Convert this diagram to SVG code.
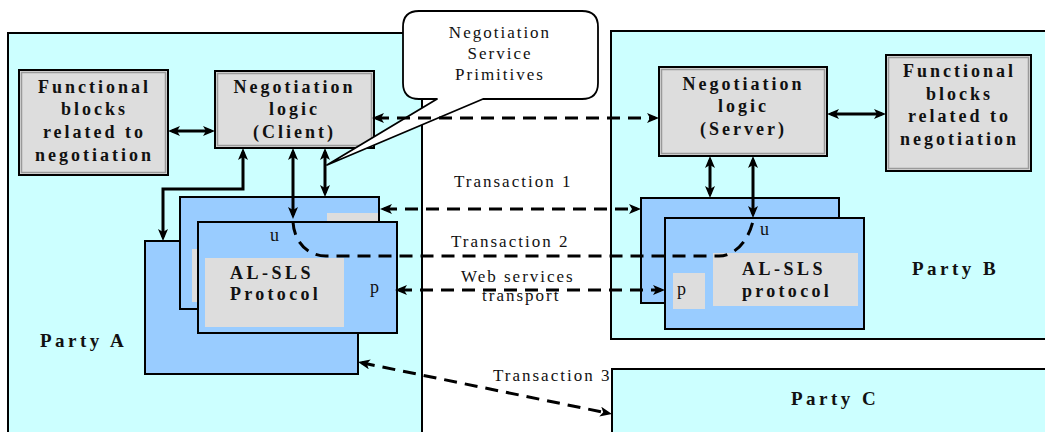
<svg xmlns="http://www.w3.org/2000/svg" width="1045" height="432" viewBox="0 0 1045 432">
  <defs>
    <marker id="ah" viewBox="0 0 12 10" markerWidth="12" markerHeight="10" refX="8" refY="5" orient="auto-start-reverse" markerUnits="userSpaceOnUse">
      <path d="M0,0 L12,5 L0,10 L3,5 Z" fill="#000"/>
    </marker>
  </defs>
  <style>
    .party { fill: #CCFFFF; stroke: #000; stroke-width: 2; }
    .blk { fill: #99CCFF; stroke: #000; stroke-width: 2; }
    .gray { fill: #DDDDDD; stroke: none; }
    .box { fill: #DDDDDD; stroke: #000; stroke-width: 2; }
    .inner { fill: none; stroke: #9a9a9a; stroke-width: 1.5; }
    .bubble { fill: #fff; stroke: #000; stroke-width: 1.8; stroke-linejoin: round; }
    .b { font-family: "Liberation Serif", "Times New Roman", serif; font-weight: bold; font-size: 18px; letter-spacing: 3px; fill: #111; }
    .bc { text-anchor: middle; }
    .pl { font-family: "Liberation Serif", "Times New Roman", serif; font-weight: bold; font-size: 19px; letter-spacing: 3.5px; fill: #111; }
    .r { font-family: "Liberation Serif", "Times New Roman", serif; font-size: 17px; letter-spacing: 2px; fill: #111; }
    .up { font-family: "Liberation Serif", "Times New Roman", serif; font-size: 18px; fill: #111; }
    .c { fill: none; stroke: #000; stroke-width: 3; }
    .d { fill: none; stroke: #000; stroke-width: 3; stroke-dasharray: 13 8; }
  </style>

  <!-- parties -->
  <g id="party-a">
    <rect class="party" x="8" y="33" width="414" height="410"/>
    <text class="pl" x="40" y="347">Party A</text>
  </g>
  <g id="party-b">
    <rect class="party" x="611" y="31" width="450" height="308"/>
    <text class="pl" x="912" y="275">Party B</text>
  </g>
  <g id="party-c">
    <rect class="party" x="612" y="369" width="450" height="80"/>
    <text class="pl" x="791" y="405">Party C</text>
  </g>

  <!-- party A functional blocks -->
  <g id="func-a">
    <rect class="box" x="19" y="70" width="149" height="105"/>
    <rect class="inner" x="21.5" y="72.5" width="144" height="100"/>
    <text class="b bc" x="94.5" y="93">Functional</text>
    <text class="b bc" x="94.5" y="115">blocks</text>
    <text class="b bc" x="94.5" y="138">related to</text>
    <text class="b bc" x="94.5" y="161">negotiation</text>
  </g>

  <!-- party A negotiation logic -->
  <g id="neg-client">
    <rect class="box" x="215" y="71" width="159" height="77"/>
    <rect class="inner" x="217.5" y="73.5" width="154" height="72"/>
    <text class="b bc" x="294.5" y="93">Negotiation</text>
    <text class="b bc" x="294.5" y="115">logic</text>
    <text class="b bc" x="294.5" y="138">(Client)</text>
  </g>

  <!-- party A protocol stack -->
  <g id="proto-a">
    <rect class="blk" x="145" y="241" width="213" height="133"/>
    <rect class="blk" x="180" y="197" width="199" height="112"/>
    <rect class="gray" x="327" y="213" width="51" height="10"/>
    <rect class="gray" x="192" y="249" width="7" height="53"/>
    <rect class="blk" x="198" y="222" width="199" height="111"/>
    <rect class="gray" x="205" y="258" width="139" height="69"/>
    <text class="b" x="230" y="279" style="letter-spacing:3.5px">AL-SLS</text>
    <text class="b" x="230" y="300" style="letter-spacing:3.3px">Protocol</text>
    <text class="up" x="270" y="241">u</text>
    <text class="up" x="370" y="293">p</text>
  </g>

  <!-- party B negotiation logic -->
  <g id="neg-server">
    <rect class="box" x="659" y="67" width="168" height="89"/>
    <rect class="inner" x="661.5" y="69.5" width="163" height="84"/>
    <text class="b bc" x="743.5" y="90">Negotiation</text>
    <text class="b bc" x="743.5" y="112">logic</text>
    <text class="b bc" x="743.5" y="135">(Server)</text>
  </g>

  <!-- party B functional blocks -->
  <g id="func-b">
    <rect class="box" x="886" y="55" width="145" height="116"/>
    <rect class="inner" x="888.5" y="57.5" width="140" height="111"/>
    <text class="b bc" x="959.5" y="77">Functional</text>
    <text class="b bc" x="959.5" y="100">blocks</text>
    <text class="b bc" x="959.5" y="122">related to</text>
    <text class="b bc" x="959.5" y="145">negotiation</text>
  </g>

  <!-- party B protocol stack -->
  <g id="proto-b">
    <rect class="blk" x="641" y="198" width="198" height="105"/>
    <rect class="blk" x="665" y="218" width="199" height="111"/>
    <rect class="gray" x="713" y="253" width="145" height="53"/>
    <rect class="gray" x="673" y="273" width="32" height="36"/>
    <text class="b" x="742" y="275" style="letter-spacing:3.5px">AL-SLS</text>
    <text class="b" x="742" y="297" style="letter-spacing:3.3px">protocol</text>
    <text class="up" x="760" y="235">u</text>
    <text class="up" x="677" y="295">p</text>
  </g>

  <!-- service primitives callout -->
  <g id="callout">
    <path class="bubble" d="M419,11 H582 Q598,11 598,27 V83 Q598,99 582,99 H483 L327,165 L437,99 H419 Q403,99 403,83 V27 Q403,11 419,11 Z"/>
    <text class="r bc" x="500" y="38">Negotiation</text>
    <text class="r bc" x="500" y="59">Service</text>
    <text class="r bc" x="500" y="80">Primitives</text>
  </g>

  <!-- connectors -->
  <g id="connectors">
    <path class="c" d="M172,131 H211" marker-start="url(#ah)" marker-end="url(#ah)"/>
    <path class="d" d="M376,118 H655" marker-start="url(#ah)" marker-end="url(#ah)"/>
    <path class="c" d="M831,114 H882" marker-start="url(#ah)" marker-end="url(#ah)"/>
    <path class="c" d="M243,152 V189 H163 V237" marker-start="url(#ah)" marker-end="url(#ah)"/>
    <path class="c" d="M293,152 V215" marker-start="url(#ah)" marker-end="url(#ah)"/>
    <path class="c" d="M325,152 V193" marker-start="url(#ah)" marker-end="url(#ah)"/>
    <path class="c" d="M710,160 V194" marker-start="url(#ah)" marker-end="url(#ah)"/>
    <path class="c" d="M753,160 V214" marker-start="url(#ah)" marker-end="url(#ah)"/>
    <path class="d" d="M384,209 H637" marker-start="url(#ah)" marker-end="url(#ah)"/>
    <path class="d" d="M293,222 C294,240 306,256 326,256 H719 C734,256 748,242 753,221"/>
    <path class="d" d="M399,290 H661" marker-start="url(#ah)" marker-end="url(#ah)"/>
    <path class="d" d="M361.9,362.8 L608.1,413.2" marker-start="url(#ah)" marker-end="url(#ah)"/>
  </g>

  <!-- transaction labels -->
  <g id="labels">
    <text class="r" x="454" y="187">Transaction 1</text>
    <text class="r" x="451" y="247">Transaction 2</text>
    <text class="r" x="461" y="282">Web services</text>
    <text class="r" x="482" y="301">transport</text>
    <text class="r" x="493" y="381">Transaction 3</text>
  </g>
</svg>
